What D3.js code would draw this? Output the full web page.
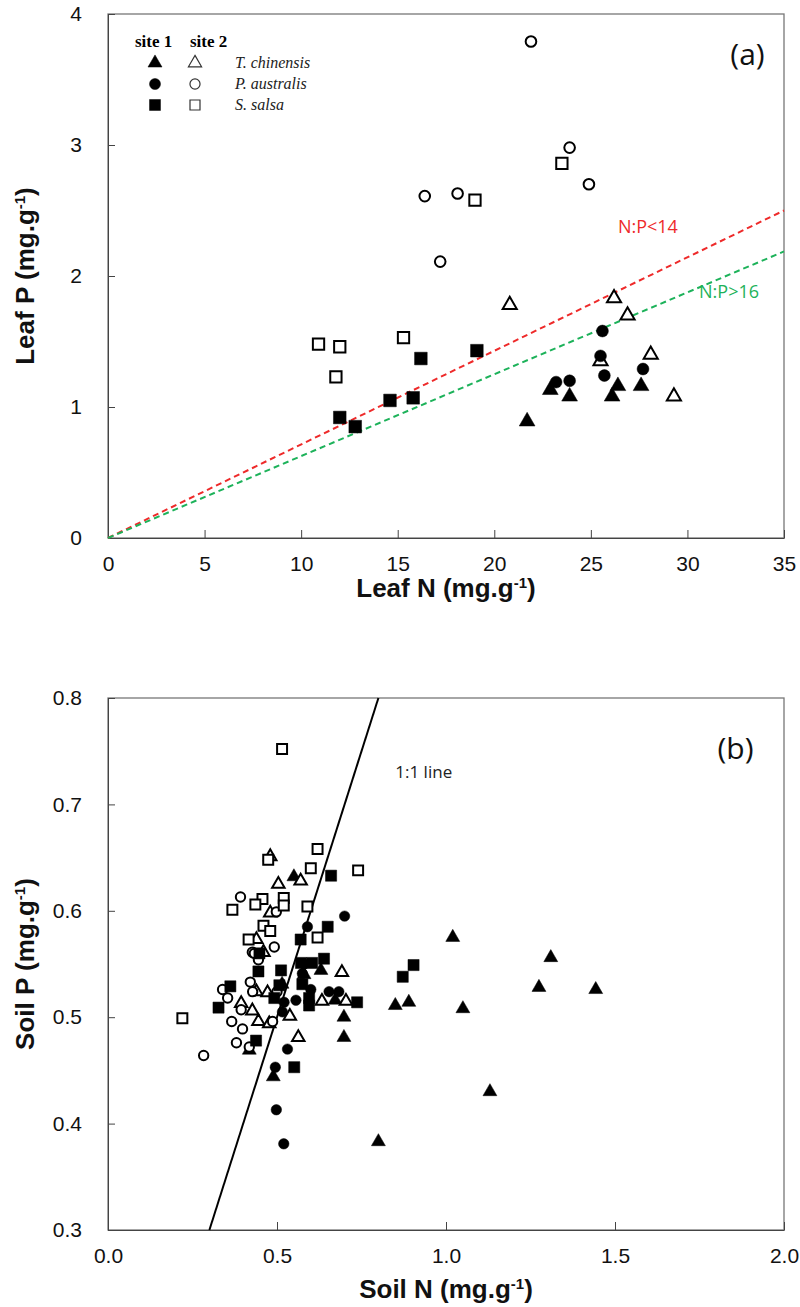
<!DOCTYPE html>
<html>
<head>
<meta charset="utf-8">
<script src="https://cdn.jsdelivr.net/npm/d3@7"></script>
<style>
body { margin:0; background:#fff; }
.tick text { font-family:"Liberation Sans Narrow","Arial Narrow","Liberation Sans",sans-serif; font-size:21px; fill:#111; }
.axTitle { font-family:"Liberation Sans Narrow","Arial Narrow","Liberation Sans",sans-serif; font-weight:bold; font-size:26px; fill:#111; }
.note { font-family:"Open Sans","Noto Sans",sans-serif; }
</style>
</head>
<body>
<svg id="chart" width="800" height="1307"></svg>
<script>
// ---- data: panel (a) leaf N vs leaf P ----
var leafTchin1 = [[21.7,0.89],[22.9,1.13],[23.9,1.08],[26.4,1.16],[26.1,1.08],[27.6,1.16]];
var leafTchin2 = [[20.8,1.78],[26.2,1.83],[26.9,1.70],[28.1,1.40],[25.5,1.35],[29.3,1.08]];
var leafPaus1  = [[25.6,1.58],[25.5,1.39],[27.7,1.29],[25.7,1.24],[23.2,1.19],[23.9,1.20]];
var leafPaus2  = [[21.9,3.79],[23.9,2.98],[24.9,2.70],[16.4,2.61],[18.1,2.63],[17.2,2.11]];
var leafSsal1  = [[19.1,1.43],[16.2,1.37],[14.6,1.05],[15.8,1.07],[12.0,0.92],[12.8,0.85]];
var leafSsal2  = [[23.5,2.86],[19.0,2.58],[10.9,1.48],[12.0,1.46],[15.3,1.53],[11.8,1.23]];
var npRatios = [14, 16];
var leafXTicks = [0,5,10,15,20,25,30,35];
var leafYTicks = [0,1,2,3,4];

// ---- data: panel (b) soil N vs soil P ----
var soilTchin1 = [[1.02,0.575],[0.85,0.511],[0.89,0.514],[1.05,0.508],[1.31,0.556],[1.275,0.528],[1.443,0.526],
    [1.13,0.430],[0.80,0.383],[0.418,0.469],[0.515,0.531],[0.489,0.444],[0.630,0.544],[0.672,0.516],
    [0.698,0.500],[0.698,0.481],[0.55,0.632],[0.58,0.540]];
var soilTchin2 = [[0.48,0.651],[0.504,0.625],[0.48,0.598],[0.439,0.573],[0.46,0.561],[0.439,0.524],[0.394,0.513],
    [0.427,0.506],[0.445,0.496],[0.477,0.494],[0.472,0.523],[0.538,0.501],[0.563,0.481],[0.633,0.515],
    [0.704,0.515],[0.692,0.542],[0.57,0.628]];
var soilPaus1  = [[0.52,0.381],[0.498,0.413],[0.531,0.470],[0.495,0.453],[0.516,0.505],[0.521,0.514],[0.575,0.541],
    [0.60,0.526],[0.556,0.516],[0.654,0.524],[0.683,0.524],[0.70,0.595],[0.59,0.585],[0.58,0.550]];
var soilPaus2  = [[0.392,0.613],[0.498,0.599],[0.492,0.566],[0.427,0.561],[0.445,0.554],[0.339,0.526],[0.354,0.518],
    [0.421,0.533],[0.428,0.524],[0.394,0.507],[0.366,0.496],[0.398,0.489],[0.487,0.496],[0.38,0.476],
    [0.418,0.472],[0.283,0.464],[0.50,0.524],[0.433,0.560]];
var soilSsal1  = [[0.904,0.549],[0.872,0.538],[0.362,0.529],[0.327,0.509],[0.438,0.478],[0.512,0.544],[0.445,0.543],
    [0.492,0.518],[0.507,0.530],[0.551,0.453],[0.571,0.551],[0.604,0.551],[0.639,0.555],[0.575,0.531],
    [0.595,0.511],[0.595,0.518],[0.737,0.514],[0.66,0.633],[0.65,0.585],[0.57,0.573],[0.448,0.560]];
var soilSsal2  = [[0.515,0.752],[0.474,0.648],[0.457,0.611],[0.436,0.606],[0.368,0.601],[0.46,0.586],[0.48,0.581],
    [0.416,0.573],[0.22,0.499],[0.62,0.658],[0.74,0.638],[0.60,0.640],[0.52,0.612],[0.52,0.605],
    [0.59,0.604],[0.62,0.575]];
var oneToOne = [0.3, 0.8];
var soilXTicks = [0,0.5,1.0,1.5,2.0];
var soilYTicks = [0.3,0.4,0.5,0.6,0.7,0.8];

var species = ["T. chinensis","P. australis","S. salsa"];
var siteNames = ["site 1","site 2"];

var svg = d3.select("#chart");
var shapes = [d3.symbolTriangle, d3.symbolCircle, d3.symbolSquare];

function drawMarks(g, x, y, data, shapeIdx, filled, scale)
{
    var sz = [80, 82, 118][shapeIdx] * scale;
    if(!filled) sz = sz*0.8;
    g.selectAll(null)
      .data(data)
      .enter().append("path")
        .attr("transform", function(d){ return "translate(" + x(d[0]) + "," + y(d[1]) + ")"; })
        .attr("d", d3.symbol().type(shapes[shapeIdx]).size(sz))
        .style("fill", filled ? "#000" : "#fff")
        .style("stroke", "#000")
        .style("stroke-width", filled ? 0.5 : 2);
}

function drawFrame(g, x, y, w, h, xt, yt, fmt)
{
    g.append("rect")
        .attr("width", w).attr("height", h)
        .style("fill", "none").style("stroke", "#777").style("stroke-width", 1.3);

    var ax = g.append("g")
        .attr("transform", "translate(0," + h + ")")
        .call(d3.axisBottom(x).tickValues(xt).tickSizeInner(-8).tickSizeOuter(0).tickPadding(18).tickFormat(fmt));
    ax.select(".domain").style("stroke", "#444");
    ax.selectAll(".tick line").style("stroke", "#444");

    var ay = g.append("g")
        .call(d3.axisLeft(y).tickValues(yt).tickSizeInner(-7).tickSizeOuter(0).tickPadding(26).tickFormat(fmt));
    ay.select(".domain").style("stroke", "#444");
    ay.selectAll(".tick line").style("stroke", "#444");
}

// ================= panel (a) =================
var ma = {left:108, top:14, width:676, height:524};
var ga = svg.append("g").attr("transform", "translate(" + ma.left + "," + ma.top + ")");
var xa = d3.scaleLinear().domain([0,35]).range([0, ma.width]);
var ya = d3.scaleLinear().domain([0,4]).range([ma.height, 0]);

drawFrame(ga, xa, ya, ma.width, ma.height, leafXTicks, leafYTicks, d3.format("d"));

var npColors = ["#ee2a2a", "#1db25a"];
npRatios.forEach(function(r, i){
    ga.append("line")
        .attr("x1", xa(0)).attr("y1", ya(0))
        .attr("x2", xa(35)).attr("y2", ya(35/r))
        .style("stroke", npColors[i]).style("stroke-width", 2)
        .style("stroke-dasharray", "6,4");
});
ga.append("text").attr("class","note")
    .attr("x", xa(26.4)).attr("y", ya(2.33))
    .style("fill", npColors[0]).style("font-size","18px")
    .text("N:P<14");
ga.append("text").attr("class","note")
    .attr("x", xa(30.6)).attr("y", ya(1.83))
    .style("fill", npColors[1]).style("font-size","18px")
    .text("N:P>16");

var leafSets = [leafTchin1, leafTchin2, leafPaus1, leafPaus2, leafSsal1, leafSsal2];
leafSets.forEach(function(d, i){
    drawMarks(ga, xa, ya, d, Math.floor(i/2), i%2==0, 1.35);
});

ga.append("text").attr("class","note")
    .attr("x", xa(34.0)).attr("y", ya(3.61))
    .style("font-size","30px").style("text-anchor","end").style("fill","#111")
    .text("(a)");

// legend
var lg = svg.append("g");
siteNames.forEach(function(s, i){
    lg.append("text")
        .attr("x", 135 + i*55).attr("y", 47)
        .style("font-family","'Liberation Serif','DejaVu Serif',serif")
        .style("font-weight","bold").style("font-size","17px")
        .text(s);
});
species.forEach(function(s, j){
    var yy = 63 + j*21;
    for(var k = 0; k<2; ++k)
        lg.append("path")
            .attr("transform", "translate(" + (155 + k*40) + "," + yy + ")")
            .attr("d", d3.symbol().type(shapes[j]).size(k==0 ? [85,95,120][j] : [75,80,100][j]))
            .style("fill", k==0 ? "#000" : "#fff")
            .style("stroke", k==0 ? "#000" : "#333")
            .style("stroke-width", k==0 ? 0.5 : 1.2);
    lg.append("text")
        .attr("x", 235).attr("y", yy + 5)
        .style("font-family","'Liberation Serif','DejaVu Serif',serif")
        .style("font-style","italic").style("font-size","16px").style("fill","#222")
        .text(s);
});

svg.append("text").attr("class","axTitle")
    .attr("x", ma.left + ma.width/2).attr("y", 597)
    .style("text-anchor","middle")
    .html('Leaf N (mg.g<tspan dy="-9" font-size="15px">-1</tspan><tspan dy="9">)</tspan>');
svg.append("text").attr("class","axTitle")
    .attr("transform", "translate(34," + (ma.top + ma.height/2) + ") rotate(-90)")
    .style("text-anchor","middle")
    .html('Leaf P (mg.g<tspan dy="-9" font-size="15px">-1</tspan><tspan dy="9">)</tspan>');

// ================= panel (b) =================
var mb = {left:108, top:698, width:676, height:532};
var gb = svg.append("g").attr("transform", "translate(" + mb.left + "," + mb.top + ")");
var xb = d3.scaleLinear().domain([0,2]).range([0, mb.width]);
var yb = d3.scaleLinear().domain([0.3,0.8]).range([mb.height, 0]);

drawFrame(gb, xb, yb, mb.width, mb.height, soilXTicks, soilYTicks, d3.format(".1f"));

gb.append("line")
    .attr("x1", xb(oneToOne[0])).attr("y1", yb(oneToOne[0]))
    .attr("x2", xb(oneToOne[1])).attr("y2", yb(oneToOne[1]))
    .style("stroke","#000").style("stroke-width", 2);
gb.append("text").attr("class","note")
    .attr("x", xb(0.85)).attr("y", yb(0.725))
    .style("font-size","17px").style("fill","#222")
    .text("1:1 line");

var soilSets = [soilTchin1, soilTchin2, soilPaus1, soilPaus2, soilSsal1, soilSsal2];
soilSets.forEach(function(d, i){
    drawMarks(gb, xb, yb, d, Math.floor(i/2), i%2==0, 1.05);
});

gb.append("text").attr("class","note")
    .attr("x", xb(1.91)).attr("y", yb(0.743))
    .style("font-size","30px").style("text-anchor","end").style("fill","#111")
    .text("(b)");

svg.append("text").attr("class","axTitle")
    .attr("x", mb.left + mb.width/2).attr("y", 1298)
    .style("text-anchor","middle")
    .html('Soil N (mg.g<tspan dy="-9" font-size="15px">-1</tspan><tspan dy="9">)</tspan>');
svg.append("text").attr("class","axTitle")
    .attr("transform", "translate(34," + (mb.top + mb.height/2) + ") rotate(-90)")
    .style("text-anchor","middle")
    .html('Soil P (mg.g<tspan dy="-9" font-size="15px">-1</tspan><tspan dy="9">)</tspan>');
</script>
</body>
</html>
